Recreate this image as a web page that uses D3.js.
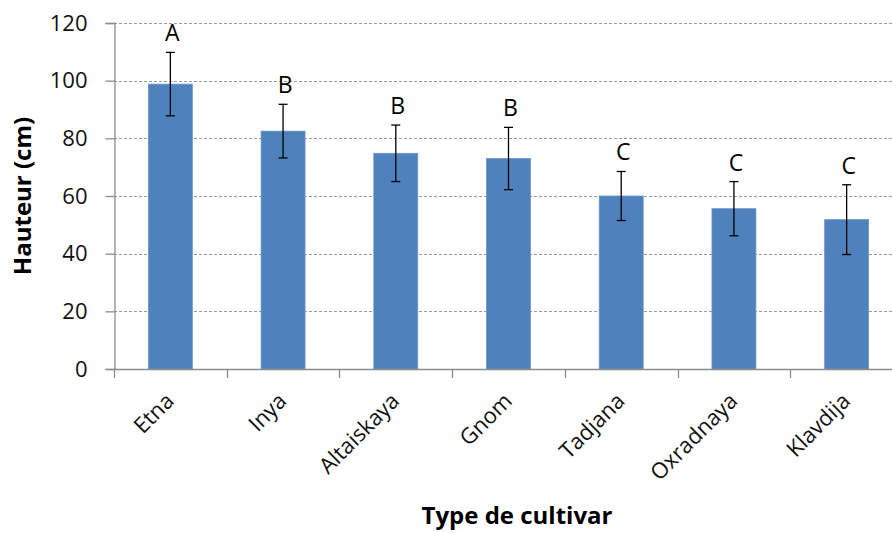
<!DOCTYPE html>
<html>
<head>
<meta charset="utf-8">
<script src="https://cdn.jsdelivr.net/npm/d3@7"></script>
<style>
  html, body { margin: 0; padding: 0; background: #fff; }
  svg { display: block; font-family: "Open Sans", "DejaVu Sans", sans-serif; }
</style>
</head>
<body>
<svg id="chart" width="892" height="533"></svg>
<script>
// Plant height per cultivar: mean, standard deviation and significance group
const cultivars = ["Etna", "Inya", "Altaiskaya", "Gnom", "Tadjana", "Oxradnaya", "Klavdija"];
const heights   = [98.8, 82.5, 74.8, 73.0, 60.0, 55.6, 51.8];
const errors    = [11.0, 9.3, 9.8, 10.8, 8.5, 9.4, 12.1];
const groups    = ["A", "B", "B", "B", "C", "C", "C"];
const yTicks    = [0, 20, 40, 60, 80, 100, 120];

const svg = d3.select("#chart");
const W = 892, H = 533;
const plotL = 114, plotT = 23, plotB = 369, plotR = 903;

const x = d3.scaleBand().domain(cultivars).range([plotL, plotR]).paddingInner(0.61).paddingOuter(0.305);
const y = d3.scaleLinear().domain([0, 120]).range([plotB, plotT]);

svg.append("rect").attr("width", W).attr("height", H).attr("fill", "#fff");

// horizontal gridlines
svg.append("g")
  .selectAll("line")
  .data(yTicks.filter(d => d > 0))
  .join("line")
  .attr("x1", plotL).attr("x2", plotR)
  .attr("y1", d => Math.round(y(d)) + 0.5).attr("y2", d => Math.round(y(d)) + 0.5)
  .attr("stroke", "#9a9a9a").attr("stroke-width", 1)
  .attr("stroke-dasharray", "3,2");

// bars
svg.append("g")
  .selectAll("rect")
  .data(cultivars)
  .join("rect")
  .attr("x", d => x(d))
  .attr("width", x.bandwidth())
  .attr("y", (d, i) => y(heights[i]))
  .attr("height", (d, i) => y(0) - y(heights[i]))
  .attr("fill", "#4f81bd")
  .attr("stroke", "#6a95c8").attr("stroke-width", 0.8);

// error bars
const eb = svg.append("g").attr("stroke", "#000").attr("stroke-width", 1.3);
cultivars.forEach((c, i) => {
  const cx = x(c) + x.bandwidth() / 2;
  const hi = y(heights[i] + errors[i]), lo = y(heights[i] - errors[i]);
  eb.append("line").attr("x1", cx).attr("x2", cx).attr("y1", hi).attr("y2", lo);
  eb.append("line").attr("x1", cx - 4.5).attr("x2", cx + 4.5).attr("y1", hi).attr("y2", hi);
  eb.append("line").attr("x1", cx - 4.5).attr("x2", cx + 4.5).attr("y1", lo).attr("y2", lo);
});

// significance letters
svg.append("g")
  .selectAll("text")
  .data(cultivars)
  .join("text")
  .attr("x", d => x(d) + x.bandwidth() / 2 + 2)
  .attr("y", (d, i) => y(heights[i] + errors[i]) - 11)
  .attr("text-anchor", "middle")
  .attr("font-size", 23)
  .attr("fill", "#000")
  .text((d, i) => groups[i]);

// y axis
const yAxis = svg.append("g")
  .attr("transform", `translate(${plotL + 0.5},0)`)
  .call(d3.axisLeft(y).tickValues(yTicks).tickSize(9).tickPadding(18));
yAxis.select(".domain").attr("stroke", "#8c8c8c").attr("stroke-width", 1.3);
yAxis.selectAll(".tick line").attr("stroke", "#8c8c8c").attr("stroke-width", 1.3);
yAxis.selectAll(".tick text").attr("font-size", 22).attr("fill", "#111")
  .attr("font-family", "'Open Sans', sans-serif");

// x axis: baseline with category separator ticks
const xg = svg.append("g");
xg.append("line").attr("x1", plotL).attr("x2", plotR)
  .attr("y1", plotB + 0.5).attr("y2", plotB + 0.5)
  .attr("stroke", "#8c8c8c").attr("stroke-width", 1.3);
const step = x.step();
const firstEdge = x(cultivars[0]) - x.paddingOuter() * step;
xg.selectAll("line.sep")
  .data(d3.range(cultivars.length + 1))
  .join("line").attr("class", "sep")
  .attr("x1", i => Math.round(firstEdge + i * step) + 0.5)
  .attr("x2", i => Math.round(firstEdge + i * step) + 0.5)
  .attr("y1", plotB).attr("y2", plotB + 9)
  .attr("stroke", "#8c8c8c").attr("stroke-width", 1.3);

// rotated category labels
xg.selectAll("text")
  .data(cultivars)
  .join("text")
  .attr("transform", d => `translate(${x(d) + x.bandwidth() / 2 - 0.5},${plotB + 28}) rotate(-45)`)
  .attr("text-anchor", "end")
  .attr("dy", "0.35em")
  .attr("font-size", 22)
  .attr("fill", "#111")
  .text(d => d);

// axis titles
svg.append("text")
  .attr("transform", `translate(31,${(plotT + plotB) / 2}) rotate(-90)`)
  .attr("text-anchor", "middle")
  .attr("font-size", 24).attr("font-weight", "bold")
  .attr("fill", "#000")
  .text("Hauteur (cm)");

svg.append("text")
  .attr("x", 517).attr("y", 524)
  .attr("text-anchor", "middle")
  .attr("font-size", 24).attr("font-weight", "bold")
  .attr("fill", "#000")
  .text("Type de cultivar");
</script>
</body>
</html>
